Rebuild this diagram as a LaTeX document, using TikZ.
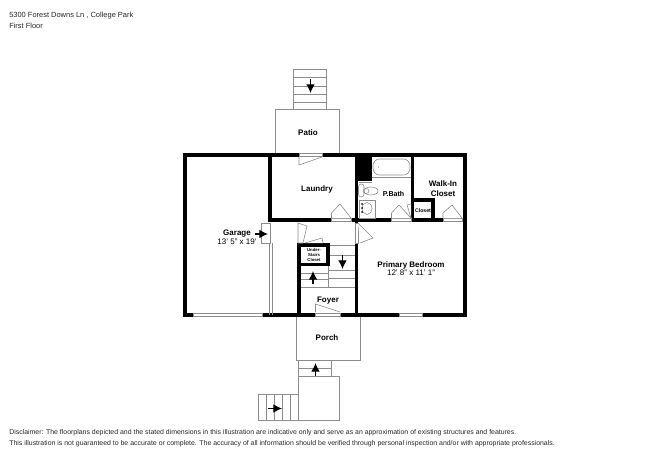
\documentclass[tikz,border=0pt]{standalone}
\usepackage{fontspec}
\setmainfont{Liberation Sans}
\usetikzlibrary{arrows.meta}
\begin{document}
\begin{tikzpicture}[x=0.75pt,y=-0.75pt]
	\tikzset{wall/.style={line width=2.6pt,color=black}}
	\tikzset{thin line/.style={line width=0.45pt,color=black!45}}
	\tikzset{gap/.style={thin line,fill=white}}
	\tikzset{walk arrow/.style={-{Latex[length=6.5pt,width=6.5pt]},line width=0.9pt,color=black}}
	\tikzset{room/.style={font=\bfseries\fontsize{6}{7.2}\selectfont,align=center,inner sep=0pt}}
	\tikzset{size/.style={font=\fontsize{6}{7.2}\selectfont,inner sep=0pt}}
	\tikzset{note/.style={font=\fontsize{5.2}{6.5}\selectfont,anchor=base west,inner sep=0pt,color=black!85}}
	\useasboundingbox (0, 0) rectangle (650, 460);

	% patio and back stairs
	\draw[thin line] (275, 155) -- (275, 109) -- (339, 109) -- (339, 155);
	\draw[thin line] (293, 69) rectangle (326, 109);
	\foreach \y in {77, 86, 94, 102}
		\draw[thin line] (293, \y) -- (326, \y);
	\draw[walk arrow] (310.5, 79) -- (310.5, 93);

	% porch and front stairs
	\draw[thin line] (296, 315) -- (296, 360) -- (360.5, 360) -- (360.5, 315);
	\draw[thin line] (298.5, 360) -- (298.5, 376);
	\draw[thin line] (331, 360) -- (331, 376);
	\draw[thin line] (298.5, 368) -- (331, 368);
	\draw[thin line] (298.5, 376) rectangle (339, 420);
	\draw[thin line] (298.5, 394) -- (258, 394) -- (258, 420) -- (298.5, 420);
	\foreach \x in {266, 274, 282, 290}
		\draw[thin line] (\x, 394) -- (\x, 420);
	\draw[walk arrow] (315.5, 376) -- (315.5, 363);
	\draw[walk arrow] (268, 408.5) -- (282, 408.5);

	% inner stairs
	\foreach \y in {273, 279, 287}
		\draw[thin line] (300, \y) -- (328, \y);
	\foreach \y in {245, 255, 270, 278, 287}
		\draw[thin line] (328, \y) -- (355, \y);
	\draw[thin line] (328, 265) -- (328, 287);
	\draw[walk arrow] (313, 284) -- (313, 271);
	\draw[walk arrow] (342.5, 255) -- (342.5, 269);

	% walls
	\draw[wall] (185, 315) -- (185, 155) -- (465, 155) -- (465, 315) -- cycle;
	\draw[wall] (270, 155) -- (270, 220) -- (465, 220);
	\draw[wall] (356.5, 155) -- (356.5, 315);
	\draw[wall] (412.5, 155) -- (412.5, 220);
	\draw[wall] (412.5, 200) -- (433, 200) -- (433, 220);
	\draw[wall] (299, 315) -- (299, 245) -- (328, 245) -- (328, 264.5) -- (299, 264.5);
	\fill[black] (355, 155) rectangle (372, 181);

	% garage side wall and entry
	\draw[thin line] (269.5, 243) -- (269.5, 315);
	\draw[thin line] (272, 243) -- (272, 315);
	\draw[gap] (261, 223) rectangle (270, 243);
	\draw[walk arrow] (255, 234) -- (268, 234);

	% windows and door gaps in the walls
	\draw[gap] (193, 313.5) rectangle (262, 316.5);
	\draw[gap] (399, 313.5) rectangle (422, 316.5);
	\draw[gap] (299, 153.5) rectangle (322, 156.5);
	\draw[gap] (315, 313.5) rectangle (340, 316.5);
	\draw[gap] (331.5, 218.5) rectangle (351.5, 221.5);
	\draw[gap] (391.5, 218.5) rectangle (411, 221.5);
	\draw[gap] (443, 218.5) rectangle (462, 221.5);
	\draw[gap] (355, 223) rectangle (358, 243);

	% doors
	\draw[gap] (299, 157) -- (299, 165) -- (322, 157);
	\draw[gap] (331.5, 218) -- (331.5, 213) -- (340, 204) -- (351, 218);
	\draw[gap] (391.5, 218) -- (391.5, 213) -- (399, 205) -- (411, 218);
	\draw[gap] (443, 218) -- (443, 213) -- (452, 205) -- (462, 218);
	\draw[gap] (411, 218) -- (407, 205) -- (411, 204);
	\draw[gap] (358, 223) -- (373, 238) -- (360, 243);
	\draw[gap] (315.5, 312) -- (315.5, 304) -- (340, 312);
	\draw[gap] (298, 223) -- (298, 243) -- (303, 243) -- (307, 226) -- cycle;
	\draw[gap] (305, 243) -- (322, 238) -- (323, 243);

	% bath fixtures
	\draw[thin line] (372, 177) -- (411, 177);
	\draw[thin line,rounded corners=5pt] (373, 159) rectangle (410, 175);
	\fill[black!60] (378.5, 167) circle (0.5);
	\draw[thin line] (358.5, 182) -- (372, 182);
	\draw[thin line,rounded corners=2pt] (358.5, 184) rectangle (364, 197);
	\draw[thin line] (371, 191) ellipse (7 and 4);
	\draw[thin line] (366, 191) ellipse (3 and 2.5);
	\draw[thin line] (359, 200) rectangle (375, 218);
	\draw[thin line] (367, 208.5) ellipse (5 and 6);
	\foreach \y in {204, 208, 212}
		\fill[black] (362, \y) circle (1);

	% labels
	\node[room] (patio) at (308, 133) {Patio};
	\node[room] (laundry) at (317, 189) {Laundry};
	\node[room,font=\bfseries\fontsize{5.3}{6.4}\selectfont] (bath) at (393.5, 193.5) {P.Bath};
	\node[room] (walkin) at (443, 188.5) {Walk-In\\Closet};
	\node[room,font=\bfseries\fontsize{3.9}{4.8}\selectfont] (closet) at (423, 211) {Closet};
	\node[room,font=\bfseries\fontsize{3.2}{3.8}\selectfont] (understairs) at (314, 255) {Under-\\Stairs\\Closet};
	\node[room] (garage) at (237, 233.5) {Garage};
	\node[size] (garagesize) at (237, 242) {13' 5" x 19'};
	\node[room] (bedroom) at (411, 265) {Primary Bedroom};
	\node[size] (bedroomsize) at (411, 272.5) {12' 8" x 11' 1"};
	\node[room] (foyer) at (328, 300.5) {Foyer};
	\node[room] (porch) at (327, 338) {Porch};

	\node[note,font=\fontsize{5.6}{6.5}\selectfont] (address) at (9, 17.7) {5300 Forest Downs Ln , College Park};
	\node[note,font=\fontsize{5.6}{6.5}\selectfont] (floor) at (9, 28.5) {First Floor};
	\node[note] (disclaimera) at (9, 434) {Disclaimer: The floorplans depicted and the stated dimensions in this illustration are indicative only and serve as an approximation of existing structures and features.};
	\node[note] (disclaimerb) at (9, 445) {This illustration is not guaranteed to be accurate or complete. The accuracy of all information should be verified through personal inspection and/or with appropriate professionals.};
\end{tikzpicture}
\end{document}
